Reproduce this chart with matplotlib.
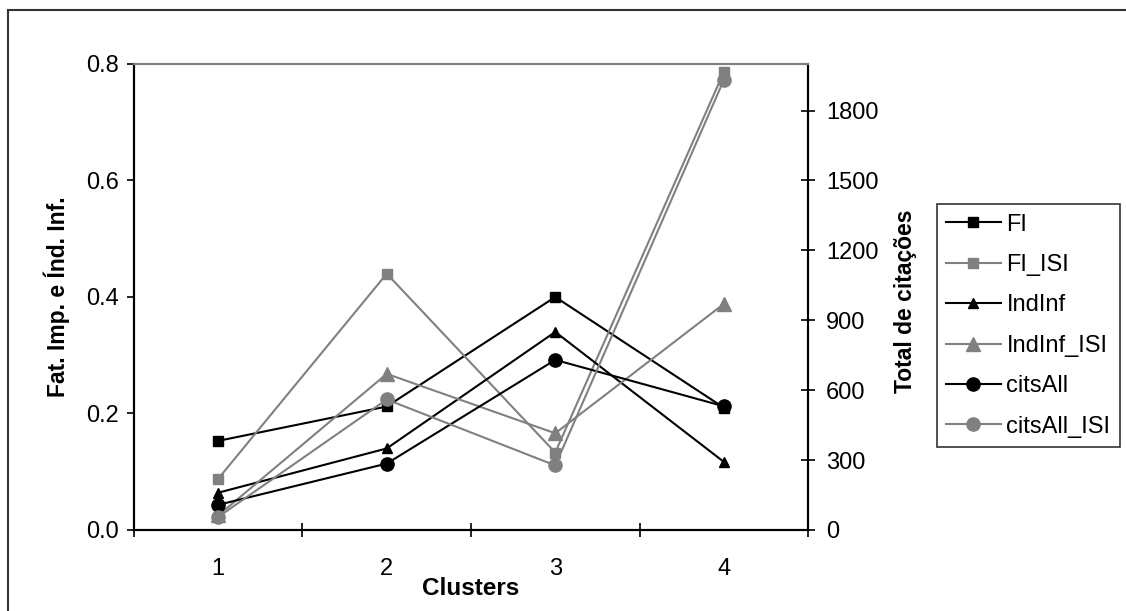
import matplotlib
matplotlib.use("Agg")
import matplotlib.pyplot as plt
from matplotlib.patches import Rectangle
from matplotlib.ticker import FixedLocator, FormatStrFormatter

plt.rcParams['font.family'] = ['Liberation Sans', 'DejaVu Sans']

# Dados
clusters = [1, 2, 3, 4]
cluster_labels = ['1', '2', '3', '4']

fi = [0.153, 0.212, 0.400, 0.210]
fi_isi = [0.088, 0.440, 0.133, 0.786]
indinf = [0.064, 0.140, 0.340, 0.117]
indinf_isi = [0.025, 0.268, 0.166, 0.388]

cits_all = [108, 285, 730, 531]
cits_all_isi = [56, 560, 277, 1931]

preto = 'black'
cinza = '#808080'

fig = plt.figure(figsize=(11.26, 6.11), dpi=100)
ax = fig.add_axes([0.119, 0.1326, 0.5986, 0.7627])
ax2 = ax.twinx()

lw = 1.5
ax.plot(clusters, fi, color=preto, lw=lw, marker='s', ms=6.5, label='FI')
ax.plot(clusters, fi_isi, color=cinza, lw=lw, marker='s', ms=6.5, label='FI_ISI')
ax.plot(clusters, indinf, color=preto, lw=lw, marker='^', ms=6.5, label='IndInf')
ax.plot(clusters, indinf_isi, color=cinza, lw=lw, marker='^', ms=9.5, label='IndInf_ISI')
ax2.plot(clusters, cits_all, color=preto, lw=lw, marker='o', ms=9.5, label='citsAll')
ax2.plot(clusters, cits_all_isi, color=cinza, lw=lw, marker='o', ms=9.5, label='citsAll_ISI')

# Eixo X no estilo Excel (marcas entre as categorias)
ax.set_xlim(0.5, 4.5)
ax.xaxis.set_major_locator(FixedLocator([0.5, 1.5, 2.5, 3.5, 4.5]))
ax.xaxis.set_minor_locator(FixedLocator(clusters))
ax.set_xticklabels([], minor=False)
ax.set_xticklabels(cluster_labels, minor=True)
ax.tick_params(axis='x', which='major', direction='inout', length=10, width=1.2)
ax.tick_params(axis='x', which='minor', length=0, pad=20, labelsize=17)

ax.set_ylim(0, 0.8)
ax.set_yticks([0.0, 0.2, 0.4, 0.6, 0.8])
ax.yaxis.set_major_formatter(FormatStrFormatter('%.1f'))
ax.tick_params(axis='y', direction='out', length=5, width=1.2, pad=6, labelsize=17)

ax2.set_ylim(0, 2000)
ax2.set_yticks([0, 300, 600, 900, 1200, 1500, 1800])
ax2.tick_params(axis='y', direction='inout', length=10, width=1.2, pad=8, labelsize=17)

for a in (ax, ax2):
    for s in ('left', 'right', 'bottom'):
        a.spines[s].set_color('black')
        a.spines[s].set_linewidth(1.5)
    a.spines['top'].set_color(cinza)
    a.spines['top'].set_linewidth(1.5)

ax.set_xlabel('Clusters', fontsize=17.5, fontweight='bold', labelpad=-2)
ax.set_ylabel('Fat. Imp. e Índ. Inf.', fontsize=16.5, fontweight='bold')
ax.yaxis.set_label_coords(-0.095, 0.5)
ax2.set_ylabel('Total de citações', fontsize=16.5, fontweight='bold')
ax2.yaxis.set_label_coords(1.127, 0.49)

h1, l1 = ax.get_legend_handles_labels()
h2, l2 = ax2.get_legend_handles_labels()
leg = fig.legend(h1 + h2, l1 + l2, loc='upper left', bbox_to_anchor=(0.832, 0.666),
                 bbox_transform=fig.transFigure, fontsize=17, frameon=True,
                 fancybox=False, edgecolor='black', handlelength=2.3,
                 handletextpad=0.25, labelspacing=0.78, borderpad=0.4,
                 borderaxespad=0, numpoints=1)
leg.get_frame().set_linewidth(1.2)

# Moldura externa do gráfico
fig.patches.append(Rectangle((8 / 1126, -0.02), 1.05, 1 - 10 / 611 + 0.02,
                             transform=fig.transFigure, fill=False,
                             edgecolor='#333333', lw=1.5))

fig.savefig('out.png', dpi=100)
